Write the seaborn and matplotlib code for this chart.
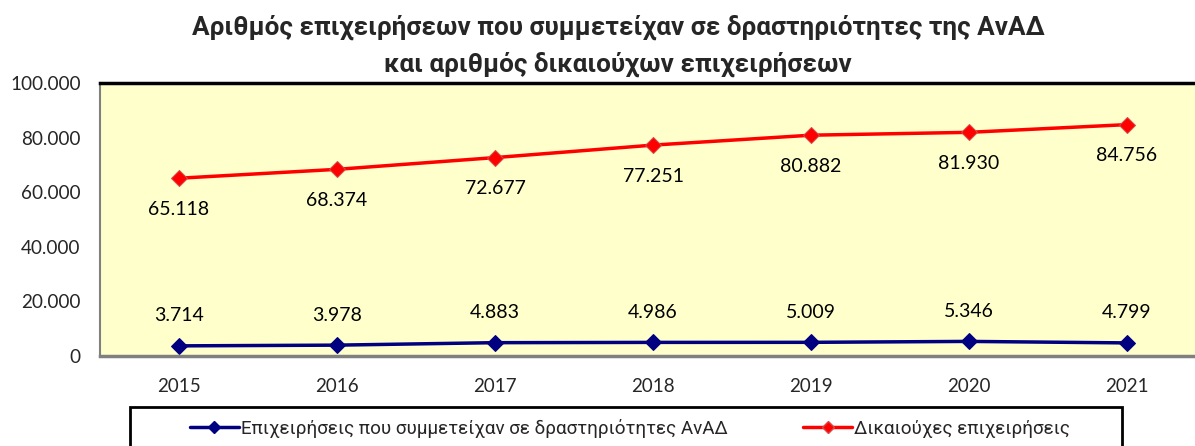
import numpy as np
import pandas as pd
import matplotlib.pyplot as plt
import seaborn as sns
from matplotlib.patches import Rectangle
from matplotlib.ticker import FuncFormatter

sns.set_style('white')
plt.rcParams['font.family'] = ['Lato', 'DejaVu Sans']

years = ['2015', '2016', '2017', '2018', '2019', '2020', '2021']
participating = [3714, 3978, 4883, 4986, 5009, 5346, 4799]
beneficiaries = [65118, 68374, 72677, 77251, 80882, 81930, 84756]

name_part = 'Επιχειρήσεις που συμμετείχαν σε δραστηριότητες ΑνΑΔ'
name_ben = 'Δικαιούχες επιχειρήσεις'
title = 'Αριθμός επιχειρήσεων που συμμετείχαν σε δραστηριότητες της ΑνΑΔ\nκαι αριθμός δικαιούχων επιχειρήσεων'

df = pd.DataFrame({
    'year': years * 2,
    'value': participating + beneficiaries,
    'series': [name_part] * len(years) + [name_ben] * len(years),
})
df['x'] = df.groupby('series').cumcount()

W, H = 1195, 446
fig = plt.figure(figsize=(W / 100, H / 100), dpi=100)
# plot area from px 100..1206 (clipped at right), y 83..356
ax = fig.add_axes([100 / W, (H - 356) / H, 1106 / W, 273 / H])
ax.set_facecolor('#FFFFCC')

palette = {name_part: '#000080', name_ben: '#FF0000'}
sns.lineplot(data=df, x='x', y='value', hue='series', palette=palette,
             marker='D', markersize=8, linewidth=2.5, ax=ax, legend=False)
for line in ax.lines:
    line.set_markeredgecolor('#000080' if line.get_color() == '#000080' else '#D94848')

def fmt(v):
    return f"{int(v):,}".replace(',', '.')

for i in range(len(years)):
    ax.annotate(fmt(participating[i]), (i, participating[i]),
                xytext=(0, 30), textcoords='offset pixels', ha='center', va='center',
                fontsize=14, color='black')
    ax.annotate(fmt(beneficiaries[i]), (i, beneficiaries[i]),
                xytext=(0, -31), textcoords='offset pixels', ha='center', va='center',
                fontsize=14, color='black')

ax.set_xlim(-0.5, len(years) - 0.5)
ax.set_ylim(0, 100000)
ax.set_yticks(np.arange(0, 100001, 20000))
ax.yaxis.set_major_formatter(FuncFormatter(lambda v, p: fmt(v)))
ax.set_xticks(np.arange(-0.5, len(years), 1.0))
ax.set_xticklabels([])
ax.set_xticks(np.arange(len(years)), minor=True)
ax.set_xticklabels(years, minor=True)
ax.tick_params(axis='x', which='minor', length=0, pad=16, labelsize=13.5)
ax.tick_params(axis='x', which='major', length=5.5, width=1.2, color='#808080', direction='out')
ax.tick_params(axis='y', length=5, width=1.2, color='#808080', direction='out', labelsize=13.6, pad=9)
ax.set_xlabel('')
ax.set_ylabel('')
ax.grid(False)

for side in ('left', 'bottom'):
    ax.spines[side].set_color('#808080')
ax.spines['left'].set_linewidth(1.5)
ax.spines['bottom'].set_linewidth(2.5)
ax.spines['top'].set_color('black')
ax.spines['top'].set_linewidth(2.5)
ax.spines['right'].set_visible(False)

fig.text(618 / W, 1 - 46 / H, title, ha='center', va='center', fontsize=18.8,
         fontweight='bold', linespacing=1.6, family=['Roboto', 'DejaVu Sans'])

# legend box (cut off at bottom, as in the source)
fig.patches.append(Rectangle((130 / W, -0.05), (1122 - 130) / W, 0.05 + (H - 407) / H,
                             transform=fig.transFigure, fill=False, edgecolor='black',
                             linewidth=2))
handles = [plt.Line2D([], [], color='#000080', marker='D', markersize=6, linewidth=2.5),
           plt.Line2D([], [], color='#FF0000', marker='D', markersize=6, linewidth=2.5,
                      markeredgecolor='#D94848')]
fig.legend(handles, [name_part, name_ben], loc='center', bbox_to_anchor=(630 / W, 1 - 428 / H),
           ncol=2, frameon=False, handlelength=2.6, handletextpad=0.1, columnspacing=4.0,
           prop={'family': ['Liberation Sans Narrow', 'Roboto', 'DejaVu Sans'], 'size': 13.6})

fig.savefig('out.png', dpi=100)
